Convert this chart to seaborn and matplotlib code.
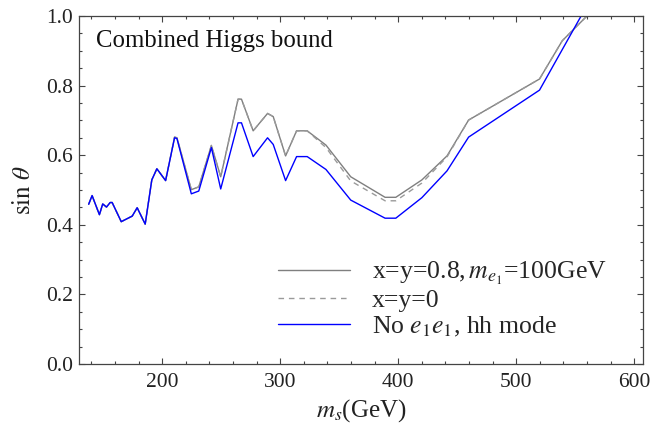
import numpy as np
import pandas as pd
import matplotlib
matplotlib.use("Agg")
import matplotlib.pyplot as plt
import seaborn as sns
from matplotlib.ticker import MultipleLocator, FormatStrFormatter

# ---- data ----
mass_blue = [137.7, 140.6, 146.8, 149.6, 152.8, 155.9, 157.6, 165.3, 174.6, 178.8,
             185.6, 191.2, 195.5, 202.9, 210.5, 212.5, 224.7, 231.0, 241.7, 249.6,
             264.3, 267.2, 277.1, 289.3, 294.1, 304.6, 313.9, 322.9, 338.8, 359.8,
             388.9, 398.0, 420.1, 441.4, 459.7, 519.8, 560.0]
sin_blue = [0.459, 0.484, 0.429, 0.460, 0.451, 0.464, 0.464, 0.409, 0.425, 0.449,
            0.402, 0.529, 0.561, 0.527, 0.650, 0.648, 0.489, 0.497, 0.622, 0.503,
            0.693, 0.693, 0.596, 0.650, 0.631, 0.527, 0.596, 0.596, 0.559, 0.471,
            0.419, 0.419, 0.478, 0.555, 0.652, 0.787, 1.030]

mass_gray = [137.7, 140.6, 146.8, 149.6, 152.8, 155.9, 157.6, 165.3, 174.6, 178.8,
             185.6, 191.2, 195.5, 202.9, 210.5, 212.5, 224.7, 231.0, 241.7, 249.6,
             264.3, 267.2, 277.1, 289.3, 294.1, 304.6, 313.9, 322.9, 338.8, 359.8,
             388.9, 398.0, 420.1, 441.4, 459.7, 519.8, 539.1, 560.0]
sin_gray = [0.459, 0.484, 0.429, 0.460, 0.451, 0.464, 0.464, 0.409, 0.425, 0.449,
            0.402, 0.529, 0.561, 0.527, 0.652, 0.650, 0.501, 0.509, 0.628, 0.538,
            0.761, 0.761, 0.670, 0.720, 0.711, 0.598, 0.670, 0.670, 0.629, 0.538,
            0.479, 0.479, 0.529, 0.598, 0.701, 0.819, 0.929, 1.000]
sin_dash = [0.459, 0.484, 0.429, 0.460, 0.451, 0.464, 0.464, 0.409, 0.425, 0.449,
            0.402, 0.529, 0.561, 0.527, 0.652, 0.650, 0.501, 0.509, 0.628, 0.538,
            0.761, 0.761, 0.670, 0.720, 0.711, 0.598, 0.670, 0.670, 0.622, 0.526,
            0.469, 0.469, 0.520, 0.595, 0.701, 0.819, 0.929, 1.000]

labels = [r"x=y=0.8,$\,m_{e_1}$=100GeV", "x=y=0", r"No $e_1e_1$, hh mode"]

# ---- style ----
sns.set_theme(style="ticks")
plt.rcParams["font.family"] = ["Liberation Serif", "DejaVu Serif"]
plt.rcParams["mathtext.fontset"] = "stix"

fig = plt.figure(figsize=(6.62, 4.28), dpi=100)
ax = fig.add_axes([79 / 662, 1 - 364 / 428, (643 - 79) / 662, (364 - 16) / 428])

sns.lineplot(x=mass_gray, y=sin_gray, ax=ax, color="#7f7f7f", lw=1.0,
             estimator=None, sort=False, label=labels[0])
sns.lineplot(x=mass_gray, y=sin_dash, ax=ax, color="#9a9a9a", lw=1.0,
             estimator=None, sort=False, label=labels[1])
ax.lines[-1].set_dashes((4, 3.5))
sns.lineplot(x=mass_blue, y=sin_blue, ax=ax, color="#0000ff", lw=1.0,
             estimator=None, sort=False, label=labels[2])

ax.set_xlim(129.5, 607.5)
ax.set_ylim(0, 1)
ax.xaxis.set_major_locator(MultipleLocator(100))
ax.xaxis.set_minor_locator(MultipleLocator(20))
ax.yaxis.set_major_locator(MultipleLocator(0.2))
ax.yaxis.set_minor_locator(MultipleLocator(0.05))
ax.yaxis.set_major_formatter(FormatStrFormatter("%.1f"))

edge = "#444444"
for s in ax.spines.values():
    s.set_color(edge)
    s.set_linewidth(0.9)
ax.tick_params(which="both", direction="in", top=True, right=True,
               color=edge, width=0.8, labelcolor="#222222", labelsize=15.5)
ax.tick_params(which="major", length=4.5)
ax.tick_params(which="minor", length=2.3)
ax.tick_params(axis="x", pad=6.5)
ax.tick_params(axis="y", pad=4.5)

ax.set_xlabel(r"$m_s$(GeV)", fontsize=18, color="#222222", labelpad=4)
ax.set_ylabel(r"$\sin\,\theta$", fontsize=18, color="#222222", labelpad=8)

ax.text(0.03, 0.91, "Combined Higgs bound", transform=ax.transAxes,
        fontsize=17.8, color="#111111", va="baseline", ha="left")

leg = ax.legend(loc="upper left", bbox_to_anchor=(0.353, 0.30), frameon=False,
                fontsize=18.5, handlelength=2.8, handletextpad=0.85,
                labelspacing=0.1, borderpad=0, borderaxespad=0)

fig.savefig("out.png", dpi=100)
